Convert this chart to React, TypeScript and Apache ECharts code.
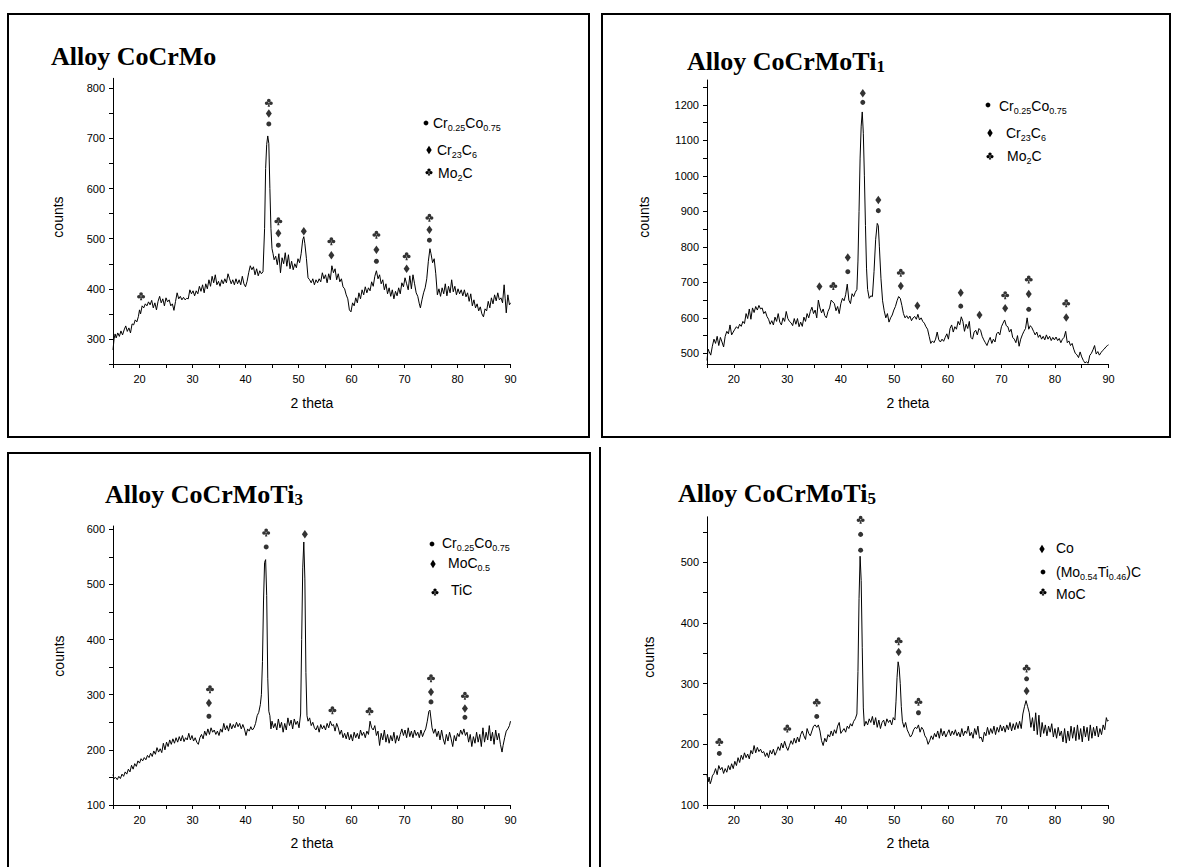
import React, { useEffect, useRef } from "react";
import * as echarts from "echarts";

// ---------- axis ticks / labels ----------
const thetaTicks = [15, 20, 25, 30, 35, 40, 45, 50, 55, 60, 65, 70, 75, 80, 85, 90];
const thetaLabels = [20, 30, 40, 50, 60, 70, 80, 90];

const coCrMoYTicks = [250, 300, 350, 400, 450, 500, 550, 600, 650, 700, 750, 800];
const coCrMoYLabels = [300, 400, 500, 600, 700, 800];
const ti1YTicks = [500, 550, 600, 650, 700, 750, 800, 850, 900, 950, 1000, 1050, 1100, 1150, 1200, 1250];
const ti1YLabels = [500, 600, 700, 800, 900, 1000, 1100, 1200];
const ti3YTicks = [100, 150, 200, 250, 300, 350, 400, 450, 500, 550, 600];
const ti3YLabels = [100, 200, 300, 400, 500, 600];
const ti5YTicks = [100, 150, 200, 250, 300, 350, 400, 450, 500, 550];
const ti5YLabels = [100, 200, 300, 400, 500];

// ---------- Alloy CoCrMo ----------
const coCrMoCurve: [number, number][] = [
  [15.0, 278], [15.2, 300], [15.4, 310], [15.6, 302], [15.9, 312], [16.2, 305], [16.5, 316], [16.8, 308],
  [17.1, 318], [17.4, 326], [17.7, 315], [18.0, 322], [18.3, 312], [18.6, 330], [18.9, 328], [19.2, 338],
  [19.5, 334], [19.8, 345], [20.0, 358], [20.2, 350], [20.5, 366], [20.8, 362], [21.1, 370], [21.4, 366],
  [21.7, 374], [22.0, 368], [22.3, 377], [22.6, 362], [22.9, 372], [23.2, 358], [23.5, 375], [23.8, 385],
  [24.1, 372], [24.4, 380], [24.7, 366], [25.0, 382], [25.3, 374], [25.6, 378], [25.9, 366], [26.2, 370],
  [26.5, 357], [26.8, 375], [27.1, 392], [27.4, 380], [27.7, 385], [28.0, 378], [28.3, 383], [28.6, 378],
  [28.9, 381], [29.2, 380], [29.5, 398], [29.8, 390], [30.1, 396], [30.4, 386], [30.7, 396], [31.0, 390],
  [31.3, 405], [31.6, 395], [31.9, 408], [32.2, 392], [32.5, 410], [32.8, 400], [33.1, 418], [33.4, 405],
  [33.7, 425], [34.0, 412], [34.3, 428], [34.6, 408], [34.9, 415], [35.2, 405], [35.5, 418], [35.8, 410],
  [36.1, 420], [36.4, 412], [36.7, 430], [37.0, 420], [37.3, 410], [37.6, 418], [37.9, 408], [38.2, 420],
  [38.5, 410], [38.8, 418], [39.1, 408], [39.4, 425], [39.7, 410], [40.0, 404], [40.3, 415], [40.6, 432],
  [40.9, 446], [41.2, 438], [41.5, 444], [41.8, 428], [42.1, 440], [42.4, 426], [42.7, 436], [43.0, 430],
  [43.3, 434], [43.6, 520], [43.8, 640], [44.0, 688], [44.2, 705], [44.4, 690], [44.6, 600], [44.8, 520],
  [45.0, 480], [45.2, 470], [45.4, 458], [45.7, 465], [46.0, 448], [46.3, 470], [46.6, 432], [46.9, 462],
  [47.2, 450], [47.5, 472], [47.8, 445], [48.1, 468], [48.4, 440], [48.7, 455], [49.0, 438], [49.3, 450],
  [49.6, 442], [49.9, 460], [50.2, 452], [50.5, 470], [50.8, 498], [51.0, 504], [51.2, 490], [51.5, 460],
  [51.8, 422], [52.1, 418], [52.4, 412], [52.7, 420], [53.0, 408], [53.3, 418], [53.6, 412], [53.9, 420],
  [54.2, 414], [54.5, 432], [54.8, 420], [55.1, 428], [55.4, 412], [55.7, 430], [56.0, 418], [56.3, 446],
  [56.6, 432], [56.9, 440], [57.2, 418], [57.5, 430], [57.8, 414], [58.1, 420], [58.4, 404], [58.7, 400],
  [59.0, 388], [59.3, 380], [59.6, 358], [59.9, 354], [60.2, 372], [60.5, 366], [60.8, 382], [61.1, 372],
  [61.4, 392], [61.7, 380], [62.0, 398], [62.3, 388], [62.6, 404], [62.9, 392], [63.2, 402], [63.5, 396],
  [63.8, 414], [64.1, 405], [64.4, 425], [64.7, 436], [65.0, 420], [65.3, 428], [65.6, 410], [65.9, 418],
  [66.2, 398], [66.5, 410], [66.8, 390], [67.1, 402], [67.4, 385], [67.7, 398], [68.0, 380], [68.3, 395],
  [68.6, 386], [68.9, 402], [69.2, 390], [69.5, 412], [69.8, 404], [70.1, 422], [70.4, 410], [70.7, 398],
  [71.0, 426], [71.3, 400], [71.6, 428], [71.9, 410], [72.2, 392], [72.5, 385], [72.8, 370], [73.0, 362],
  [73.3, 378], [73.6, 392], [73.9, 402], [74.2, 420], [74.5, 455], [74.8, 480], [75.0, 470], [75.3, 452],
  [75.6, 460], [75.9, 430], [76.2, 388], [76.5, 400], [76.8, 385], [77.1, 402], [77.4, 390], [77.7, 410],
  [78.0, 386], [78.3, 405], [78.6, 392], [78.9, 418], [79.2, 394], [79.5, 405], [79.8, 388], [80.1, 400],
  [80.4, 390], [80.7, 398], [81.0, 386], [81.3, 398], [81.6, 384], [81.9, 392], [82.2, 375], [82.5, 390],
  [82.8, 366], [83.1, 378], [83.4, 362], [83.7, 370], [84.0, 356], [84.3, 364], [84.6, 350], [84.9, 344],
  [85.2, 360], [85.5, 356], [85.8, 375], [86.1, 362], [86.4, 382], [86.7, 370], [87.0, 388], [87.3, 376],
  [87.6, 392], [87.9, 378], [88.2, 382], [88.5, 372], [88.8, 408], [89.0, 380], [89.2, 352], [89.5, 388],
  [89.8, 368], [90.0, 372],
];
const coCrMoDots: [number, number][] = [[44.4, 729], [46.2, 487], [64.7, 455], [74.7, 497]];
const coCrMoDiamonds: [number, number][] = [[44.4, 750], [46.2, 511], [51.0, 515], [56.2, 467], [64.7, 478], [70.4, 440], [74.7, 518]];
const coCrMoClubs: [number, number][] = [[20.3, 385], [44.4, 771], [46.2, 535], [56.2, 495], [64.7, 508], [70.4, 465], [74.7, 542]];

// ---------- Alloy CoCrMoTi1 ----------
const ti1Curve: [number, number][] = [
  [15.0, 480], [15.2, 512], [15.4, 505], [15.7, 495], [16.0, 520], [16.3, 540], [16.6, 528], [16.9, 548],
  [17.2, 522], [17.5, 545], [17.8, 532], [18.1, 518], [18.4, 548], [18.7, 562], [19.0, 555], [19.3, 580],
  [19.6, 552], [19.9, 560], [20.2, 568], [20.5, 575], [20.8, 570], [21.1, 582], [21.4, 576], [21.7, 590],
  [22.0, 584], [22.3, 612], [22.6, 598], [22.9, 625], [23.2, 596], [23.5, 628], [23.8, 615], [24.1, 632],
  [24.4, 622], [24.7, 635], [25.0, 625], [25.3, 628], [25.6, 612], [25.9, 618], [26.2, 604], [26.5, 596],
  [26.8, 582], [27.1, 592], [27.4, 580], [27.7, 602], [28.0, 590], [28.3, 612], [28.6, 588], [28.9, 580],
  [29.2, 600], [29.5, 590], [29.8, 618], [30.1, 598], [30.4, 590], [30.7, 586], [31.0, 578], [31.3, 598],
  [31.6, 582], [31.9, 598], [32.2, 575], [32.5, 588], [32.8, 576], [33.1, 602], [33.4, 590], [33.7, 612],
  [34.0, 600], [34.3, 618], [34.6, 630], [34.9, 612], [35.2, 622], [35.5, 600], [35.8, 650], [36.1, 628],
  [36.4, 614], [36.7, 625], [37.0, 606], [37.3, 600], [37.6, 618], [37.9, 628], [38.2, 650], [38.5, 645],
  [38.8, 640], [39.1, 620], [39.4, 632], [39.7, 612], [40.0, 640], [40.3, 655], [40.6, 648], [40.9, 665],
  [41.2, 695], [41.5, 650], [41.8, 640], [42.1, 668], [42.4, 660], [42.7, 672], [43.0, 680], [43.2, 760],
  [43.4, 900], [43.6, 1050], [43.8, 1140], [44.0, 1180], [44.2, 1120], [44.4, 1000], [44.6, 860], [44.8, 740],
  [45.0, 680], [45.3, 655], [45.6, 662], [45.9, 660], [46.2, 730], [46.5, 820], [46.8, 866], [47.0, 860],
  [47.2, 800], [47.5, 710], [47.8, 648], [48.1, 620], [48.4, 600], [48.7, 612], [49.0, 588], [49.3, 600],
  [49.6, 608], [49.9, 622], [50.2, 632], [50.5, 648], [50.8, 660], [51.1, 655], [51.4, 635], [51.7, 612],
  [52.0, 600], [52.3, 606], [52.6, 598], [52.9, 605], [53.2, 592], [53.5, 600], [53.8, 604], [54.1, 596],
  [54.4, 610], [54.7, 594], [55.0, 600], [55.3, 590], [55.6, 585], [55.9, 575], [56.2, 568], [56.5, 548],
  [56.8, 528], [57.1, 535], [57.4, 530], [57.7, 540], [58.0, 560], [58.3, 538], [58.6, 532], [58.9, 540],
  [59.2, 534], [59.5, 545], [59.8, 555], [60.1, 540], [60.4, 570], [60.7, 580], [61.0, 560], [61.3, 575],
  [61.6, 568], [61.9, 590], [62.2, 580], [62.5, 603], [62.8, 590], [63.1, 562], [63.4, 582], [63.7, 570],
  [64.0, 590], [64.3, 545], [64.6, 540], [64.9, 560], [65.2, 565], [65.5, 552], [65.8, 570], [66.1, 565],
  [66.4, 548], [66.7, 538], [67.0, 530], [67.3, 522], [67.6, 535], [67.9, 545], [68.2, 528], [68.5, 540],
  [68.8, 532], [69.1, 555], [69.4, 560], [69.7, 552], [70.0, 575], [70.3, 585], [70.6, 594], [70.9, 578],
  [71.2, 575], [71.5, 560], [71.8, 568], [72.1, 545], [72.4, 540], [72.7, 530], [73.0, 550], [73.3, 520],
  [73.6, 540], [73.9, 552], [74.2, 562], [74.5, 570], [74.8, 600], [75.1, 568], [75.4, 578], [75.7, 572],
  [76.0, 562], [76.3, 552], [76.6, 560], [76.9, 545], [77.2, 552], [77.5, 540], [77.8, 548], [78.1, 538],
  [78.4, 552], [78.7, 540], [79.0, 548], [79.3, 536], [79.6, 545], [79.9, 538], [80.2, 546], [80.5, 536],
  [80.8, 542], [81.1, 530], [81.4, 540], [81.7, 545], [82.0, 562], [82.3, 530], [82.6, 535], [82.9, 522],
  [83.2, 528], [83.5, 512], [83.8, 500], [84.1, 496], [84.4, 488], [84.7, 504], [85.0, 490], [85.3, 480],
  [85.6, 473], [85.9, 476], [86.2, 472], [86.5, 494], [86.8, 500], [87.1, 510], [87.4, 522], [87.7, 498],
  [88.0, 505], [88.3, 495], [88.6, 502], [88.9, 508], [89.2, 512], [89.5, 518], [89.8, 522], [90.0, 524],
];
const ti1Dots: [number, number][] = [[41.3, 730], [44.1, 1207], [47.0, 902], [62.4, 633], [75.1, 624]];
const ti1Diamonds: [number, number][] = [[36.0, 688], [41.3, 770], [44.1, 1233], [47.0, 932], [51.2, 690], [54.3, 634], [62.4, 671], [65.9, 608], [70.7, 627], [75.1, 667], [82.1, 601]];
const ti1Clubs: [number, number][] = [[38.6, 690], [51.2, 727], [70.7, 664], [75.1, 708], [82.1, 641]];

// ---------- Alloy CoCrMoTi3 ----------
const ti3Curve: [number, number][] = [
  [15.0, 155], [15.2, 148], [15.5, 150], [15.8, 146], [16.1, 152], [16.4, 148], [16.7, 156], [17.0, 152],
  [17.3, 160], [17.6, 156], [17.9, 165], [18.2, 160], [18.5, 172], [18.8, 165], [19.1, 175], [19.4, 170],
  [19.7, 180], [20.0, 176], [20.3, 184], [20.6, 180], [20.9, 186], [21.2, 182], [21.5, 190], [21.8, 186],
  [22.1, 194], [22.4, 188], [22.7, 198], [23.0, 192], [23.3, 204], [23.6, 196], [23.9, 202], [24.2, 195],
  [24.5, 212], [24.8, 200], [25.1, 214], [25.4, 206], [25.7, 218], [26.0, 210], [26.3, 220], [26.6, 212],
  [26.9, 222], [27.2, 214], [27.5, 224], [27.8, 216], [28.1, 226], [28.4, 215], [28.7, 222], [29.0, 218],
  [29.3, 230], [29.6, 218], [29.9, 226], [30.2, 216], [30.5, 222], [30.8, 214], [31.1, 210], [31.4, 222],
  [31.7, 228], [32.0, 220], [32.3, 234], [32.6, 226], [32.9, 238], [33.2, 228], [33.5, 240], [33.8, 232],
  [34.1, 236], [34.4, 228], [34.7, 234], [35.0, 226], [35.3, 238], [35.6, 232], [35.9, 248], [36.2, 236],
  [36.5, 244], [36.8, 234], [37.1, 248], [37.4, 238], [37.7, 246], [38.0, 240], [38.3, 250], [38.6, 242],
  [38.9, 248], [39.2, 238], [39.5, 246], [39.8, 238], [40.1, 226], [40.4, 238], [40.7, 234], [41.0, 242],
  [41.3, 236], [41.6, 240], [41.9, 248], [42.2, 262], [42.5, 268], [42.8, 282], [43.0, 300], [43.2, 360],
  [43.4, 470], [43.6, 540], [43.8, 545], [44.0, 480], [44.2, 330], [44.4, 270], [44.6, 262], [44.8, 238],
  [45.0, 252], [45.3, 240], [45.6, 248], [45.9, 236], [46.2, 256], [46.5, 240], [46.8, 250], [47.1, 232],
  [47.4, 248], [47.7, 236], [48.0, 258], [48.3, 244], [48.6, 254], [48.9, 238], [49.2, 256], [49.5, 246],
  [49.8, 252], [50.1, 240], [50.4, 265], [50.6, 400], [50.8, 530], [51.0, 577], [51.2, 510], [51.4, 340],
  [51.6, 262], [51.8, 252], [52.1, 258], [52.4, 244], [52.7, 250], [53.0, 240], [53.3, 236], [53.6, 244],
  [53.9, 232], [54.2, 246], [54.5, 238], [54.8, 244], [55.1, 236], [55.4, 248], [55.7, 240], [56.0, 252],
  [56.3, 244], [56.6, 246], [56.9, 234], [57.2, 248], [57.5, 240], [57.8, 228], [58.1, 236], [58.4, 222],
  [58.7, 230], [59.0, 220], [59.3, 232], [59.6, 218], [59.9, 228], [60.2, 216], [60.5, 232], [60.8, 222],
  [61.1, 230], [61.4, 220], [61.7, 236], [62.0, 226], [62.3, 232], [62.6, 222], [62.9, 234], [63.2, 228],
  [63.5, 252], [63.8, 240], [64.1, 236], [64.4, 244], [64.7, 226], [65.0, 234], [65.3, 208], [65.6, 230],
  [65.9, 218], [66.2, 236], [66.5, 214], [66.8, 228], [67.1, 212], [67.4, 226], [67.7, 216], [68.0, 232],
  [68.3, 212], [68.6, 226], [68.9, 216], [69.2, 228], [69.5, 238], [69.8, 226], [70.1, 236], [70.4, 222],
  [70.7, 240], [71.0, 224], [71.3, 234], [71.6, 222], [71.9, 236], [72.2, 226], [72.5, 232], [72.8, 222],
  [73.1, 236], [73.4, 224], [73.7, 232], [74.0, 238], [74.3, 252], [74.6, 270], [74.8, 272], [75.0, 256],
  [75.2, 240], [75.5, 230], [75.8, 238], [76.1, 224], [76.4, 234], [76.7, 218], [77.0, 236], [77.3, 220],
  [77.6, 210], [77.9, 228], [78.2, 216], [78.5, 232], [78.8, 220], [79.1, 206], [79.4, 226], [79.7, 216],
  [80.0, 230], [80.3, 224], [80.6, 236], [80.9, 228], [81.2, 238], [81.5, 226], [81.8, 232], [82.1, 214],
  [82.4, 228], [82.7, 206], [83.0, 224], [83.3, 212], [83.6, 232], [83.9, 214], [84.2, 228], [84.5, 206],
  [84.8, 240], [85.1, 214], [85.4, 232], [85.7, 218], [86.0, 244], [86.3, 216], [86.6, 232], [86.9, 210],
  [87.2, 236], [87.5, 218], [87.8, 230], [88.1, 210], [88.4, 196], [88.6, 208], [88.9, 222], [89.2, 234],
  [89.5, 238], [89.8, 244], [90.0, 252],
];
const ti3Dots: [number, number][] = [[33.1, 261], [43.9, 568], [75.0, 287], [81.4, 259]];
const ti3Diamonds: [number, number][] = [[33.1, 285], [51.2, 591], [75.0, 305], [81.4, 275]];
const ti3Clubs: [number, number][] = [[33.3, 310], [43.9, 594], [56.4, 272], [63.4, 270], [75.0, 330], [81.4, 298]];

// ---------- Alloy CoCrMoTi5 ----------
const ti5Curve: [number, number][] = [
  [15.0, 150], [15.2, 138], [15.4, 146], [15.6, 135], [15.8, 140], [16.0, 148], [16.3, 152], [16.6, 160],
  [16.9, 150], [17.2, 165], [17.5, 158], [17.8, 162], [18.1, 152], [18.4, 160], [18.7, 154], [19.0, 165],
  [19.3, 158], [19.6, 168], [19.9, 160], [20.2, 172], [20.5, 165], [20.8, 178], [21.1, 170], [21.4, 182],
  [21.7, 175], [22.0, 186], [22.3, 178], [22.6, 184], [22.9, 176], [23.2, 190], [23.5, 184], [23.8, 198],
  [24.1, 186], [24.4, 195], [24.7, 188], [25.0, 192], [25.3, 186], [25.6, 188], [25.9, 180], [26.2, 186],
  [26.5, 178], [26.8, 190], [27.1, 184], [27.4, 192], [27.7, 182], [28.0, 188], [28.3, 196], [28.6, 190],
  [28.9, 202], [29.2, 194], [29.5, 205], [29.8, 196], [30.1, 190], [30.4, 198], [30.7, 206], [31.0, 200],
  [31.3, 210], [31.6, 202], [31.9, 212], [32.2, 204], [32.5, 216], [32.8, 222], [33.1, 214], [33.4, 208],
  [33.7, 226], [34.0, 218], [34.3, 214], [34.6, 222], [34.9, 230], [35.2, 232], [35.5, 228], [35.8, 232],
  [36.1, 222], [36.4, 206], [36.7, 198], [37.0, 210], [37.3, 204], [37.6, 216], [37.9, 212], [38.2, 222],
  [38.5, 214], [38.8, 224], [39.1, 218], [39.4, 230], [39.7, 236], [40.0, 218], [40.3, 222], [40.6, 226],
  [40.9, 220], [41.2, 230], [41.5, 226], [41.8, 234], [42.1, 230], [42.4, 238], [42.7, 242], [43.0, 250],
  [43.2, 320], [43.4, 440], [43.6, 510], [43.8, 470], [44.0, 360], [44.2, 260], [44.4, 230], [44.7, 238],
  [45.0, 232], [45.3, 242], [45.6, 236], [45.9, 246], [46.2, 232], [46.5, 244], [46.8, 228], [47.1, 240],
  [47.4, 226], [47.7, 236], [48.0, 240], [48.3, 230], [48.6, 242], [48.9, 236], [49.2, 240], [49.5, 232],
  [49.8, 244], [50.1, 240], [50.3, 270], [50.5, 310], [50.7, 336], [50.9, 326], [51.1, 300], [51.3, 262],
  [51.5, 238], [51.8, 228], [52.1, 236], [52.4, 224], [52.7, 218], [53.0, 212], [53.3, 216], [53.6, 224],
  [53.9, 228], [54.2, 226], [54.5, 232], [54.8, 220], [55.1, 228], [55.4, 224], [55.7, 214], [56.0, 210],
  [56.3, 200], [56.6, 206], [56.9, 214], [57.2, 208], [57.5, 218], [57.8, 212], [58.1, 222], [58.4, 210],
  [58.7, 226], [59.0, 214], [59.3, 222], [59.6, 212], [59.9, 218], [60.2, 224], [60.5, 214], [60.8, 222],
  [61.1, 216], [61.4, 224], [61.7, 214], [62.0, 220], [62.3, 212], [62.6, 226], [62.9, 214], [63.2, 222],
  [63.5, 218], [63.8, 230], [64.1, 214], [64.4, 220], [64.7, 210], [65.0, 226], [65.3, 216], [65.6, 230],
  [65.9, 210], [66.2, 212], [66.5, 204], [66.8, 220], [67.1, 214], [67.4, 228], [67.7, 216], [68.0, 226],
  [68.3, 218], [68.6, 230], [68.9, 216], [69.2, 228], [69.5, 220], [69.8, 232], [70.1, 222], [70.4, 230],
  [70.7, 220], [71.0, 232], [71.3, 224], [71.6, 236], [71.9, 222], [72.2, 234], [72.5, 224], [72.8, 236],
  [73.1, 226], [73.4, 238], [73.7, 226], [74.0, 250], [74.3, 262], [74.6, 272], [74.9, 262], [75.2, 252],
  [75.5, 228], [75.8, 244], [76.1, 222], [76.4, 252], [76.7, 216], [77.0, 248], [77.3, 212], [77.6, 236],
  [77.9, 218], [78.2, 232], [78.5, 214], [78.8, 230], [79.1, 220], [79.4, 234], [79.7, 212], [80.0, 226],
  [80.3, 210], [80.6, 228], [80.9, 214], [81.2, 222], [81.5, 204], [81.8, 226], [82.1, 202], [82.4, 222],
  [82.7, 206], [83.0, 230], [83.3, 210], [83.6, 228], [83.9, 206], [84.2, 232], [84.5, 208], [84.8, 226],
  [85.1, 204], [85.4, 230], [85.7, 212], [86.0, 228], [86.3, 206], [86.6, 232], [86.9, 210], [87.2, 228],
  [87.5, 214], [87.8, 230], [88.1, 212], [88.4, 226], [88.7, 216], [89.0, 232], [89.3, 224], [89.6, 244],
  [89.8, 238], [90.0, 240],
];
const ti5Dots: [number, number][] = [[17.3, 185], [35.5, 246], [43.7, 546], [43.7, 520], [54.5, 252], [74.7, 308]];
const ti5Diamonds: [number, number][] = [[50.8, 352], [74.7, 288]];
const ti5Clubs: [number, number][] = [[17.3, 204], [30.0, 226], [35.5, 269], [43.7, 570], [50.8, 370], [54.5, 270], [74.7, 325]];

// ---------- rendering ----------
const CLUB =
  "path://M50,8A20,20,0,1,1,50,48A20,20,0,1,1,50,8ZM27,38A20,20,0,1,1,27,78A20,20,0,1,1,27,38ZM73,38A20,20,0,1,1,73,78A20,20,0,1,1,73,38ZM50,50L63,100L37,100Z";

const SANS = "Liberation Sans, Arial, sans-serif";
const SERIF = "Liberation Serif, Times New Roman, serif";

type Panel = {
  grid: { left: number; top: number; width: number; height: number };
  yMin: number;
  yMax: number;
  yTicks: number[];
  yLabels: number[];
  curve: [number, number][];
  dots: [number, number][];
  diamonds: [number, number][];
  clubs: [number, number][];
};

const panels: Panel[] = [
  { grid: { left: 113, top: 78.3, width: 397.5, height: 285.7 }, yMin: 250, yMax: 820, yTicks: coCrMoYTicks, yLabels: coCrMoYLabels, curve: coCrMoCurve, dots: coCrMoDots, diamonds: coCrMoDiamonds, clubs: coCrMoClubs },
  { grid: { left: 707, top: 80, width: 401.5, height: 284 }, yMin: 470, yMax: 1270, yTicks: ti1YTicks, yLabels: ti1YLabels, curve: ti1Curve, dots: ti1Dots, diamonds: ti1Diamonds, clubs: ti1Clubs },
  { grid: { left: 113, top: 526, width: 397.5, height: 279 }, yMin: 100, yMax: 606, yTicks: ti3YTicks, yLabels: ti3YLabels, curve: ti3Curve, dots: ti3Dots, diamonds: ti3Diamonds, clubs: ti3Clubs },
  { grid: { left: 707, top: 516.8, width: 401.5, height: 288.2 }, yMin: 100, yMax: 575, yTicks: ti5YTicks, yLabels: ti5YLabels, curve: ti5Curve, dots: ti5Dots, diamonds: ti5Diamonds, clubs: ti5Clubs },
];

const legendRich = {
  n: { fontSize: 14, fontFamily: SANS, fill: "#000" },
  s: { fontSize: 9, fontFamily: SANS, fill: "#000", padding: [9, 0, 0, 0] },
};
const titleRich = {
  t: { fontSize: 26, fontFamily: SERIF, fontWeight: "bold", fill: "#000" },
  u: { fontSize: 17, fontFamily: SERIF, fontWeight: "bold", fill: "#000", padding: [10, 0, 0, 0] },
};

function legendText(x: number, y: number, text: string) {
  return { type: "text", x, y, silent: true, style: { text, rich: legendRich, align: "left", verticalAlign: "middle" } };
}
function dotMark(cx: number, cy: number) {
  return { type: "circle", silent: true, shape: { cx, cy, r: 2.4 }, style: { fill: "#000" } };
}
function diamondMark(cx: number, cy: number) {
  return { type: "polygon", silent: true, shape: { points: [[cx, cy - 4.2], [cx + 2.7, cy], [cx, cy + 4.2], [cx - 2.7, cy]] }, style: { fill: "#000" } };
}
function clubMark(cx: number, cy: number) {
  return {
    type: "group",
    silent: true,
    children: [
      { type: "circle", shape: { cx, cy: cy - 1.9, r: 1.7 }, style: { fill: "#000" } },
      { type: "circle", shape: { cx: cx - 1.9, cy: cy + 0.6, r: 1.7 }, style: { fill: "#000" } },
      { type: "circle", shape: { cx: cx + 1.9, cy: cy + 0.6, r: 1.7 }, style: { fill: "#000" } },
      { type: "polygon", shape: { points: [[cx, cy], [cx + 1.2, cy + 3.6], [cx - 1.2, cy + 3.6]] }, style: { fill: "#000" } },
    ],
  };
}
function titleText(x: number, y: number, text: string) {
  return { type: "text", x, y, silent: true, style: { text, rich: titleRich, align: "left", verticalAlign: "middle" } };
}
function plainText(x: number, y: number, text: string, rotation = 0) {
  return {
    type: "text", x, y, rotation, silent: true,
    style: { text, fontSize: 14, fontFamily: SANS, fill: "#000", align: "center", verticalAlign: "middle" },
  };
}
function border(x: number, y: number, w: number, h: number) {
  return { type: "rect", silent: true, shape: { x, y, width: w, height: h }, style: { fill: "none", stroke: "#000", lineWidth: 2 } };
}

const plainNumber = (v: number) => String(v);

function buildOption() {
  const grid = panels.map((p) => ({ ...p.grid, containLabel: false }));
  const xAxis = panels.map((_, i) => ({
    type: "value", gridIndex: i, min: 15, max: 90,
    axisLine: { show: true, lineStyle: { color: "#000", width: 1 } },
    axisTick: { show: true, customValues: thetaTicks, length: 4, lineStyle: { color: "#000", width: 1 } },
    axisLabel: { show: true, customValues: thetaLabels, formatter: plainNumber, color: "#000", fontSize: 11, fontFamily: SANS, margin: 9 },
    splitLine: { show: false },
  }));
  const yAxis = panels.map((p, i) => ({
    type: "value", gridIndex: i, min: p.yMin, max: p.yMax,
    axisLine: { show: true, lineStyle: { color: "#000", width: 1 } },
    axisTick: { show: true, customValues: p.yTicks, length: 4, lineStyle: { color: "#000", width: 1 } },
    axisLabel: { show: true, customValues: p.yLabels, formatter: plainNumber, color: "#000", fontSize: 11, fontFamily: SANS, margin: 8 },
    splitLine: { show: false },
  }));
  const series: any[] = [];
  panels.forEach((p, i) => {
    series.push({
      type: "line", xAxisIndex: i, yAxisIndex: i, data: p.curve, symbol: "none", showSymbol: false,
      lineStyle: { color: "#000", width: 1 }, silent: true, z: 2,
    });
    series.push({
      type: "scatter", xAxisIndex: i, yAxisIndex: i, data: p.dots, symbol: "circle", symbolSize: 5,
      itemStyle: { color: "#000" }, silent: true, clip: false, z: 3,
    });
    series.push({
      type: "scatter", xAxisIndex: i, yAxisIndex: i, data: p.diamonds, symbol: "diamond", symbolSize: [6, 8.5],
      itemStyle: { color: "#000" }, silent: true, clip: false, z: 3,
    });
    series.push({
      type: "scatter", xAxisIndex: i, yAxisIndex: i, data: p.clubs, symbol: CLUB, symbolSize: [8, 8],
      itemStyle: { color: "#000" }, silent: true, clip: false, z: 3,
    });
  });

  const graphic: any[] = [
    border(8, 14, 581, 423),
    border(602, 14, 568, 423),
    border(8, 453, 582, 430),
    { type: "line", silent: true, shape: { x1: 600, y1: 447, x2: 600, y2: 870 }, style: { stroke: "#000", lineWidth: 2 } },

    titleText(51, 56, "{t|Alloy CoCrMo}"),
    titleText(687, 61, "{t|Alloy CoCrMoTi}{u|1}"),
    titleText(105, 494, "{t|Alloy CoCrMoTi}{u|3}"),
    titleText(678, 493, "{t|Alloy CoCrMoTi}{u|5}"),

    plainText(58, 217, "counts", Math.PI / 2),
    plainText(644, 217, "counts", Math.PI / 2),
    plainText(59, 656, "counts", Math.PI / 2),
    plainText(649, 657, "counts", Math.PI / 2),
    plainText(312, 403, "2 theta"),
    plainText(908, 403, "2 theta"),
    plainText(312, 843, "2 theta"),
    plainText(908, 843, "2 theta"),

    // legend CoCrMo
    dotMark(426, 123), legendText(433, 123, "{n|Cr}{s|0.25}{n|Co}{s|0.75}"),
    diamondMark(429, 150), legendText(437, 150, "{n|Cr}{s|23}{n|C}{s|6}"),
    clubMark(429, 172), legendText(438, 173, "{n|Mo}{s|2}{n|C}"),
    // legend Ti1
    dotMark(988, 105), legendText(999, 106, "{n|Cr}{s|0.25}{n|Co}{s|0.75}"),
    diamondMark(990, 133), legendText(1006, 133, "{n|Cr}{s|23}{n|C}{s|6}"),
    clubMark(990, 156), legendText(1007, 156, "{n|Mo}{s|2}{n|C}"),
    // legend Ti3
    dotMark(432, 544), legendText(442, 543, "{n|Cr}{s|0.25}{n|Co}{s|0.75}"),
    diamondMark(433, 564), legendText(448, 563, "{n|MoC}{s|0.5}"),
    clubMark(435, 592), legendText(451, 590, "{n|TiC}"),
    // legend Ti5
    diamondMark(1042, 549), legendText(1056, 548, "{n|Co}"),
    dotMark(1043, 572), legendText(1056, 572, "{n|(Mo}{s|0.54}{n|Ti}{s|0.46}{n|)C}"),
    clubMark(1043, 592), legendText(1056, 594, "{n|MoC}"),
  ];

  return {
    animation: false,
    backgroundColor: "#fff",
    grid,
    xAxis,
    yAxis,
    series,
    graphic,
  };
}

export default function App() {
  const ref = useRef<HTMLDivElement>(null);
  useEffect(() => {
    if (!ref.current) return;
    const chart = echarts.init(ref.current, null, { renderer: "svg" });
    chart.setOption(buildOption() as any);
    return () => chart.dispose();
  }, []);
  return (
    <div
      ref={ref}
      style={{ position: "fixed", left: 0, top: 0, width: 1177, height: 867, background: "#fff" }}
    />
  );
}
